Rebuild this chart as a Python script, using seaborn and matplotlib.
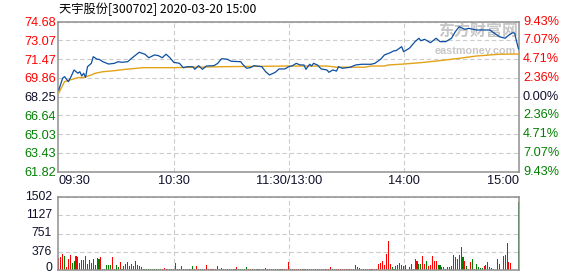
import matplotlib
matplotlib.use("Agg")
import matplotlib.pyplot as plt
import seaborn as sns
import pandas as pd

# ---------------- data ----------------
title = "天宇股份[300702] 2020-03-20 15:00"
price_ticks = [61.82, 63.43, 65.03, 66.64, 68.25, 69.86, 71.47, 73.07, 74.68]
pct_labels = ["9.43%", "7.07%", "4.71%", "2.36%", "0.00%", "2.36%", "4.71%", "7.07%", "9.43%"]
prev_close = 68.25
time_pos = [0, 60, 120, 180, 240]
time_labels = ["09:30", "10:30", "11:30/13:00", "14:00", "15:00"]
vol_ticks = [0, 376, 751, 1127, 1502]

price_min = [0, 2, 3, 5, 6, 8, 10, 11, 12, 13,
             14, 15, 17, 18, 20, 21, 23, 26, 29, 31,
             33, 36, 38, 42, 45, 47, 50, 52, 54, 56,
             58, 60, 63, 65, 67, 70, 71, 73, 75, 77,
             81, 83, 85, 88, 90, 95, 96, 98, 100, 102,
             106, 108, 110, 113, 115, 118, 120, 122, 124, 126,
             128, 129, 131, 132, 133, 135, 137, 140, 141, 143,
             145, 146, 148, 152, 155, 158, 163, 165, 168, 170,
             173, 175, 176, 179, 180, 183, 186, 188, 189, 191,
             194, 197, 199, 202, 205, 207, 209, 212, 214, 218,
             221, 225, 227, 230, 233, 235, 237, 238, 239, 240]
price_val = [68.82, 69.83, 69.97, 69.54, 69.83, 70.54, 70.26, 70.39, 70.03, 70.26,
             69.91, 70.82, 71.11, 71.68, 71.46, 71.46, 71.25, 71.05, 71.11, 71.25,
             71.20, 71.25, 71.54, 72.06, 71.89, 71.59, 71.83, 71.77, 71.59, 71.89,
             71.60, 71.20, 71.11, 70.74, 70.82, 70.82, 70.60, 70.91, 70.60, 70.88,
             70.91, 71.11, 71.51, 71.46, 71.29, 71.25, 71.03, 70.69, 70.74, 70.91,
             70.82, 70.39, 70.11, 70.34, 70.63, 70.63, 70.82, 70.91, 71.11, 70.97,
             70.97, 70.60, 71.03, 70.88, 71.11, 70.97, 70.63, 70.54, 70.34, 70.54,
             70.45, 70.82, 70.69, 70.77, 70.97, 71.03, 71.03, 71.11, 71.46, 71.83,
             72.02, 72.19, 72.19, 72.54, 72.11, 72.40, 72.97, 73.26, 73.05, 73.17,
             72.88, 73.26, 72.97, 72.97, 73.26, 73.82, 74.25, 74.03, 74.11, 73.97,
             73.97, 73.97, 73.74, 73.39, 73.26, 73.54, 73.74, 73.69, 72.97, 72.34]

avg_min = [0, 3, 7, 10, 13, 17, 19, 23, 29, 35, 41, 44, 60, 84, 120, 140, 145, 160,
           163, 170, 172, 180, 189, 199, 209, 218, 230, 240]
avg_val = [68.57, 69.54, 69.74, 69.88, 69.91, 70.11, 70.26, 70.39, 70.48, 70.60, 70.69, 70.74,
           70.74, 70.82, 70.88, 70.88, 70.78, 70.78, 70.88, 70.88, 70.97, 71.05, 71.17, 71.34,
           71.54, 71.74, 71.89, 71.91]

volume = [260, 272, 324, 292, 65, 240, 311, 150, 195, 292,
          266, 150, 215, 215, 292, 130, 215, 150, 240, 117,
          260, 240, 272, 32, 32, 117, 110, 117, 280, 32,
          117, 65, 175, 32, 97, 130, 160, 97, 130, 84,
          195, 117, 97, 65, 20, 20, 20, 20, 20, 20,
          20, 20, 20, 20, 20, 45, 20, 20, 20, 20,
          20, 143, 20, 20, 97, 20, 30, 20, 20, 20,
          78, 20, 78, 20, 20, 20, 20, 117, 20, 20,
          20, 20, 20, 97, 20, 50, 20, 20, 20, 20,
          20, 20, 20, 65, 20, 20, 20, 20, 65, 20,
          20, 20, 20, 20, 20, 20, 20, 20, 50, 20,
          20, 20, 20, 20, 20, 20, 20, 20, 20, 20,
          160, 30, 20, 20, 20, 20, 20, 25, 20, 20,
          20, 20, 20, 25, 20, 20, 20, 20, 20, 20,
          20, 20, 70, 20, 20, 20, 20, 20, 20, 20,
          20, 20, 20, 20, 20, 105, 70, 50, 20, 20,
          20, 20, 20, 20, 20, 20, 20, 133, 146, 188,
          111, 341, 605, 125, 63, 28, 90, 104, 146, 104,
          97, 104, 14, 70, 132, 20, 237, 188, 125, 125,
          292, 125, 188, 84, 104, 292, 188, 188, 104, 104,
          70, 70, 28, 70, 70, 84, 313, 271, 237, 313,
          480, 271, 188, 84, 28, 167, 237, 28, 125, 63,
          49, 49, 84, 104, 167, 70, 49, 28, 10, 237,
          125, 15, 292, 313, 564, 167, 146, 15, 0, 0,
          1394]
vol_dir_rows = ["rrrgrrrggr", "ggrrrgrggr", "ggrgggggrg", "ggrgrrrrrr", "rggggggggg",
                "ggggrrrggg", "gggrgggrrg", "grrrggrrrr", "rggrrrggrr", "gggrgggggr",
                "rrgggrgggr", "rrrrrrgrrr", "rgrrrrgrgr", "rrgrrrggrr", "rrrggrrrrr",
                "rrrrrrrrgg", "ggrrrrrrrr", "rrrrggrrrg", "grrrrrrrgg", "rrgrrrrrgg",
                "gggrrrrrrr", "rgrggrgrgg", "ggrrrrrggg", "gggrgrrrgg", "g"]
vol_dir = list("".join(vol_dir_rows))

# ---------------- style ----------------
sns.set_theme(style="white")
plt.rcParams["font.family"] = ["Liberation Sans", "Noto Sans CJK SC", "DejaVu Sans"]

RED = "#ff0000"
GREEN = "#008000"
DARK = "#10102a"
SPINE = "#8f8f8f"
GRID = "#cccccc"
CJK = ["Noto Sans CJK SC", "DejaVu Sans"]

W, H = 578, 276
fig = plt.figure(figsize=(W / 100, H / 100), dpi=100)
left, right = 58, 519.3
ax1 = fig.add_axes([left / W, 1 - 171.7 / H, (right - left) / W, 150 / H])
ax2 = fig.add_axes([left / W, 1 - 270.3 / H, (right - left) / W, 73.6 / H])

price_df = pd.DataFrame({"minute": price_min, "price": price_val})
avg_df = pd.DataFrame({"minute": avg_min, "avg": avg_val})
vol_df = pd.DataFrame({"minute": list(range(len(volume))), "volume": volume, "dir": vol_dir})

# average line then price line
sns.lineplot(data=avg_df, x="minute", y="avg", ax=ax1, color="#e3a317", linewidth=1.0, zorder=3)
sns.lineplot(data=price_df, x="minute", y="price", ax=ax1, color="#0c4fa0", linewidth=0.9, zorder=4)

sns.barplot(data=vol_df, x="minute", y="volume", hue="dir", palette={"r": RED, "g": GREEN},
            dodge=False, native_scale=True, width=0.55, saturation=1, errorbar=None,
            legend=False, linewidth=0, ax=ax2)

for ax in (ax1, ax2):
    ax.set_xlim(-0.4, 240.4)
    ax.set_xlabel("")
    ax.set_ylabel("")
    ax.set_xticks([60, 120, 180])
    ax.set_xticklabels([])
    ax.tick_params(axis="both", length=0)
    ax.grid(True, color=GRID, linestyle=(0, (4, 2.5)), linewidth=0.8)
    ax.set_axisbelow(True)
    for s in ax.spines.values():
        s.set_visible(True)
        s.set_color(SPINE)
        s.set_linewidth(1.1)
    ax.set_facecolor("white")

# price axis
ax1.set_ylim(price_ticks[0], price_ticks[-1])
ax1.set_yticks(price_ticks)
ax1.set_yticklabels([f"{v:.2f}" for v in price_ticks], fontsize=9.2)
ax1.tick_params(axis="y", pad=1.6)
for lab, v in zip(ax1.get_yticklabels(), price_ticks):
    lab.set_color(RED if v > prev_close + 1e-6 else (GREEN if v < prev_close - 1e-6 else DARK))

ytr = ax1.get_yaxis_transform()
for v, lab in zip(price_ticks, pct_labels):
    c = RED if v > prev_close + 1e-6 else (GREEN if v < prev_close - 1e-6 else DARK)
    ax1.text(1.008, v, lab, transform=ytr, ha="left", va="center", fontsize=9.2, color=c)

xtr = ax1.get_xaxis_transform()
for pos, lab in zip(time_pos, time_labels):
    ha = "left" if pos == time_pos[0] else ("right" if pos == time_pos[-1] else "center")
    ax1.text(pos, -0.064, lab, transform=xtr, ha=ha, va="center", fontsize=9.2, color=DARK)

# watermark
ax1.text(0.998, 0.995, "东方财富网", transform=ax1.transAxes, ha="right", va="top",
         fontsize=11.5, fontweight="bold", color="#c6c6c6", family=CJK, zorder=1)
ax1.text(0.993, 0.835, "eastmoney.com", transform=ax1.transAxes, ha="right", va="top",
         fontsize=7.8, fontweight="bold", color="#c8c8c8", zorder=1)

# volume axis (labels drawn as annotations so the bottom one stays inside the image)
ax2.set_ylim(0, vol_ticks[-1])
ax2.set_yticks(vol_ticks)
ax2.set_yticklabels([])
for v in vol_ticks:
    ax2.annotate(str(v), xy=(0, v), xycoords=("axes fraction", "data"),
                 xytext=(-4.3, 1.4 if v == 0 else 0), textcoords="offset points",
                 ha="right", va="center", fontsize=8.8, color=DARK, annotation_clip=False)

fig.text(59 / W, 1 - 9 / H, title, ha="left", va="center", fontsize=8.8, color="#000000",
         family=CJK)

fig.savefig("out.png", dpi=100, facecolor="white")
